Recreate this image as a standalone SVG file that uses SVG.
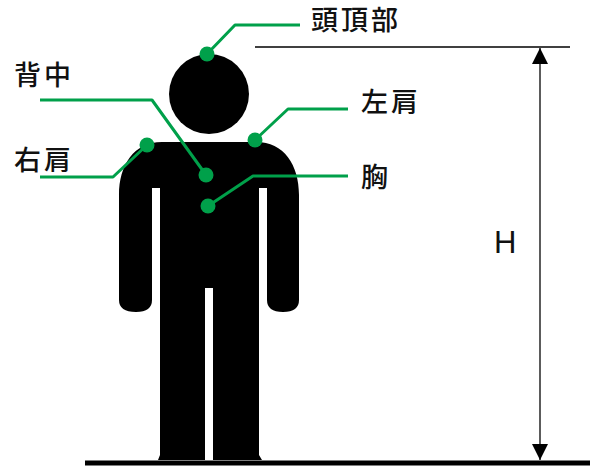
<svg xmlns="http://www.w3.org/2000/svg" width="592" height="468" viewBox="0 0 592 468">
  <style>
    .lbl { font-family: "Noto Sans CJK JP", "Noto Sans", sans-serif; font-size: 27px; font-weight: 500; fill: #111; letter-spacing: 3px; }
    .dim { font-family: "Liberation Sans", Arial, sans-serif; font-size: 31px; fill: #111; }
    .lead { fill: none; stroke: #00a04a; stroke-width: 3; stroke-linejoin: round; }
    .pt { fill: #00a04a; }
    .fig { fill: #000; }
  </style>
  <defs>
    <marker id="arrow" viewBox="0 0 16 16" refX="16" refY="8" markerWidth="16" markerHeight="16" markerUnits="userSpaceOnUse" orient="auto-start-reverse">
      <path d="M0,0 L16,8 L0,16 Z" fill="#000"/>
    </marker>
  </defs>

  <rect width="592" height="468" fill="#fff"/>

  <!-- standing figure -->
  <g id="figure">
    <circle class="fig" cx="209" cy="94" r="40"/>
    <path class="fig" d="M162,142 H256 C284,142 299,165 299,195 V300 Q299,312 283,312 Q267,312 267,300 V188 H259 V455 L262,460 H213 V288 H205 V460 H158 L160,455 V188 H152 V300 Q152,312 136,312 Q119,312 119,300 V195 C119,165 134,142 162,142 Z"/>
  </g>

  <!-- ground and height dimension -->
  <g id="dimension">
    <line x1="85" y1="463" x2="590" y2="463" stroke="#000" stroke-width="5"/>
    <line x1="255" y1="47" x2="570" y2="47" stroke="#000" stroke-width="1.6"/>
    <line x1="540" y1="48" x2="540" y2="460" stroke="#333" stroke-width="1.6" marker-start="url(#arrow)" marker-end="url(#arrow)"/>
    <text class="dim" x="494" y="253">H</text>
  </g>

  <!-- leader lines -->
  <g id="connectors">
    <polyline class="lead" points="207,54 235,25 300,25"/>
    <polyline class="lead" points="255,140 288,109 348,109"/>
    <polyline class="lead" points="147,145 113,177 40,177"/>
    <polyline class="lead" points="206,175 152,100 40,100"/>
    <polyline class="lead" points="208,206 253,176 348,176"/>
  </g>

  <g id="p-top">
    <circle class="pt" cx="207" cy="54" r="7.5"/>
    <text class="lbl" x="311" y="30">頭頂部</text>
  </g>
  <g id="p-lshoulder">
    <circle class="pt" cx="255" cy="140" r="7.5"/>
    <text class="lbl" x="361" y="112">左肩</text>
  </g>
  <g id="p-rshoulder">
    <circle class="pt" cx="147" cy="145" r="7.5"/>
    <text class="lbl" x="14" y="170">右肩</text>
  </g>
  <g id="p-back">
    <circle class="pt" cx="206" cy="175" r="7.5"/>
    <text class="lbl" x="14" y="85">背中</text>
  </g>
  <g id="p-chest">
    <circle class="pt" cx="208" cy="206" r="7.5"/>
    <text class="lbl" x="361" y="187">胸</text>
  </g>
</svg>
